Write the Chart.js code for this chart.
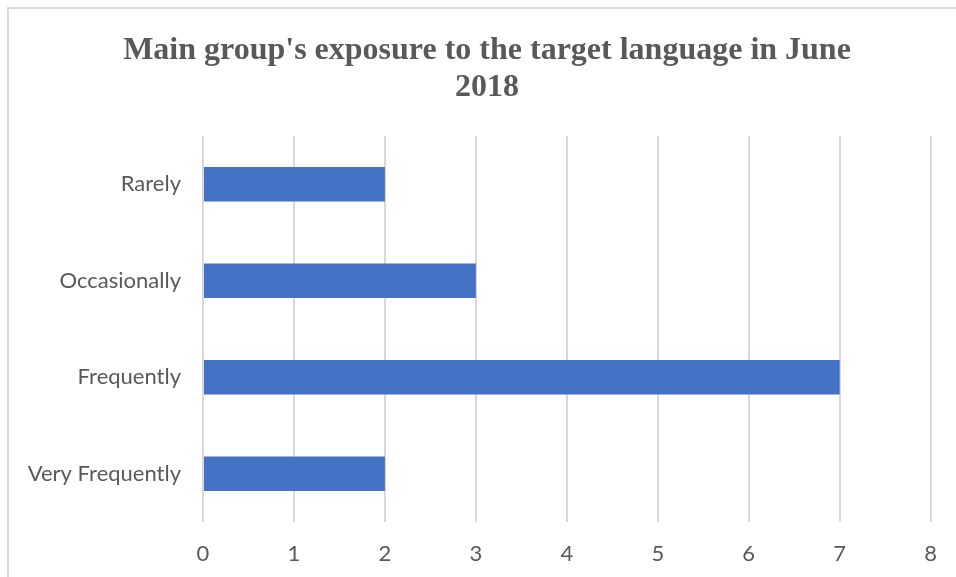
<!DOCTYPE html>
<html>
<head>
<meta charset="utf-8">
<script src="https://cdn.jsdelivr.net/npm/chart.js@4"></script>
<style>
  html, body { margin: 0; padding: 0; background: #fff; }
  #wrap { position: relative; width: 956px; height: 577px; }
  #frame {
    position: absolute; left: 7px; top: 7px; right: 0; bottom: 0;
    border-left: 2px solid #d9d9d9; border-top: 2px solid #d9d9d9;
    pointer-events: none;
  }
  canvas { position: absolute; left: 0; top: 0; }
</style>
</head>
<body>
<div id="wrap">
  <canvas id="exposureChart" width="956" height="577"></canvas>
  <div id="frame"></div>
</div>
<script>
// Answers per frequency band
const categories = ['Rarely', 'Occasionally', 'Frequently', 'Very Frequently'];
const counts = [2, 3, 7, 2];
const xTicks = [0, 1, 2, 3, 4, 5, 6, 7, 8];
const titleLines = ["Main group's exposure to the target language in June", '2018'];

// Title is centred on the whole frame, not on the plot, so draw it by hand
const frameTitle = {
    id: 'frameTitle',
    afterDraw(chart) {
        const c = chart.ctx;
        c.save();
        c.fillStyle = '#595959';
        c.font = 'bold 32px "Liberation Serif", "Times New Roman", serif';
        c.textAlign = 'center';
        c.textBaseline = 'alphabetic';
        titleLines.forEach((line, i) => c.fillText(line, 487, 59 + i * 37));
        c.restore();
    }
};

document.addEventListener("DOMContentLoaded", function() {
    const ctx = document.getElementById("exposureChart").getContext("2d");
    const labelFont = { family: 'Lato, "Open Sans", sans-serif', size: 22 };

    new Chart(ctx, {
        type: 'bar',
        data: {
            labels: categories,
            datasets: [{
                data: counts,
                backgroundColor: '#4472C4',
                barPercentage: 1,
                categoryPercentage: 0.355
            }]
        },
        options: {
            indexAxis: 'y',
            responsive: false,
            animation: false,
            layout: { padding: { left: 0, right: 21, top: 136, bottom: 0 } },
            plugins: {
                legend: { display: false },
                tooltip: { enabled: false },
                title: { display: false }
            },
            scales: {
                x: {
                    min: 0,
                    max: 8,
                    afterBuildTicks: function(scale) {
                        scale.ticks = xTicks.map(v => ({ value: v }));
                    },
                    afterFit: function(scale) { scale.height = 55; },
                    grid: { color: '#d9d9d9', lineWidth: 2, drawTicks: false },
                    border: { display: false },
                    ticks: { color: '#595959', font: labelFont, padding: 19 }
                },
                y: {
                    afterFit: function(scale) { scale.width = 203; },
                    grid: { display: false },
                    border: { display: false },
                    ticks: { color: '#595959', font: labelFont, padding: 14 }
                }
            }
        },
        plugins: [frameTitle]
    });
});
</script>
</body>
</html>
